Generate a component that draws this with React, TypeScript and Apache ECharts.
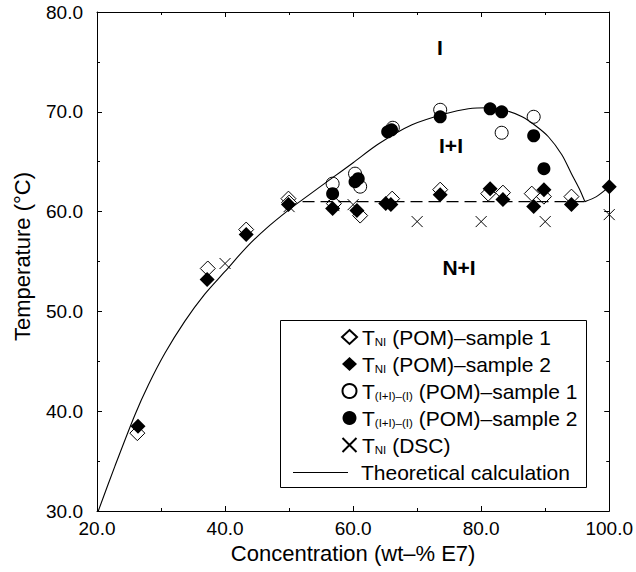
import React, { useEffect, useRef } from "react";
import * as echarts from "echarts";

const FONT = "'Liberation Sans', Arial, Helvetica, sans-serif";

// Axis ranges / ticks
const xMin = 20;
const xMax = 100;
const xStep = 20;
const yMin = 30;
const yMax = 80;
const yStep = 10;

// Series names
const N_P1 = "TNI (POM)–sample 1";
const N_P2 = "TNI (POM)–sample 2";
const N_C1 = "T(I+I)–(I) (POM)–sample 1";
const N_C2 = "T(I+I)–(I) (POM)–sample 2";
const N_DSC = "TNI (DSC)";
const N_TH = "Theoretical calculation";

// Data [concentration wt-% E7, temperature °C]
const tniPom1 = [
  [26.3, 37.8], [37.3, 54.3], [43.3, 58.2], [49.9, 61.3], [50.0, 60.9],
  [57.0, 60.8], [61.1, 59.6], [66.1, 61.3], [73.6, 62.2], [81.1, 61.8],
  [83.4, 61.9], [87.9, 61.8], [89.8, 61.5], [94.1, 61.5],
];
const tniPom2 = [
  [26.4, 38.5], [37.2, 53.2], [43.3, 57.7], [49.9, 60.7], [56.8, 60.3],
  [60.6, 60.1], [65.1, 60.8], [65.9, 60.7], [73.6, 61.7], [81.4, 62.3],
  [83.4, 61.2], [88.2, 60.5], [89.8, 62.2], [94.1, 60.7], [100.0, 62.5],
];
const tIIPom1 = [
  [56.8, 62.8], [60.3, 63.8], [61.1, 62.5], [66.2, 68.4], [73.6, 70.2],
  [83.2, 67.9], [88.2, 69.5],
];
const tIIPom2 = [
  [56.8, 61.8], [60.3, 63.0], [60.8, 63.3], [65.4, 68.0], [66.0, 68.2],
  [73.6, 69.5], [81.4, 70.3], [83.2, 70.0], [88.2, 67.6], [89.8, 64.3],
];
const tniDsc = [
  [40.0, 54.8], [50.0, 60.5], [57.0, 60.6], [60.0, 60.7], [70.0, 59.0],
  [80.0, 59.0], [90.0, 59.0], [100.0, 59.7],
];
const theoryLeft = [
  [20.2, 30.0], [22.8, 34.5], [25.9, 39.6], [28.0, 42.6], [30.6, 45.8],
  [33.7, 49.0], [36.8, 51.7], [40.0, 54.0], [43.3, 56.4], [46.4, 58.3],
  [50.0, 60.2], [52.1, 61.2], [56.8, 63.4], [60.0, 64.9], [64.0, 66.8],
  [69.2, 68.7], [74.4, 69.8], [78.0, 70.3], [81.2, 70.4], [84.0, 70.1],
  [86.4, 69.5], [88.5, 68.6], [90.5, 67.5], [92.6, 65.7], [94.1, 63.8],
  [95.4, 62.2], [96.2, 61.0],
];
const theoryRight = [[96.2, 61.0], [98.0, 61.5], [100.0, 62.5]];
const nematicLine = [[52.1, 61.0], [96.2, 61.0]];

const legendRich: Record<string, string> = {
  [N_P1]: "{t|T}{s|NI}{t| (POM)–sample 1}",
  [N_P2]: "{t|T}{s|NI}{t| (POM)–sample 2}",
  [N_C1]: "{t|T}{s|(I+I)–(I)}{t| (POM)–sample 1}",
  [N_C2]: "{t|T}{s|(I+I)–(I)}{t| (POM)–sample 2}",
  [N_DSC]: "{t|T}{s|NI}{t| (DSC)}",
  [N_TH]: "{g|}{t|Theoretical calculation}",
};

const rich = {
  t: { fontSize: 21, lineHeight: 22, fontFamily: FONT, color: "#000" },
  s: {
    fontSize: 11.5,
    lineHeight: 11,
    fontFamily: FONT,
    color: "#000",
    verticalAlign: "bottom",
    padding: [10, 0, 0, 0],
  },
  g: { width: 8, lineHeight: 22 },
};

const axisCommon = {
  axisLine: { show: true, onZero: false, lineStyle: { color: "#000", width: 1 } },
  axisTick: { show: true, inside: true, length: 5, lineStyle: { color: "#000", width: 1 } },
  minorTick: { show: true, splitNumber: 2, length: 3, lineStyle: { color: "#000", width: 1 } },
  splitLine: { show: false },
  minorSplitLine: { show: false },
};

export default function App() {
  const ref = useRef<HTMLDivElement>(null);
  useEffect(() => {
    if (!ref.current) return;
    const chart = echarts.init(ref.current, null, { renderer: "svg" });
    const option: any = {
      animation: false,
      backgroundColor: "#fff",
      grid: { left: 97, right: 25, top: 12, bottom: 61 },
      xAxis: [
        {
          type: "value",
          min: xMin,
          max: xMax,
          interval: xStep,
          position: "bottom",
          ...axisCommon,
          axisLabel: {
            formatter: (v: number) => v.toFixed(1),
            fontSize: 19,
            fontFamily: FONT,
            color: "#000",
            margin: 8,
          },
          name: "Concentration (wt–% E7)",
          nameLocation: "middle",
          nameGap: 30,
          nameTextStyle: { fontSize: 22, fontFamily: FONT, color: "#000" },
        },
        {
          type: "value",
          min: xMin,
          max: xMax,
          interval: xStep,
          position: "top",
          ...axisCommon,
          axisLabel: { show: false },
        },
      ],
      yAxis: [
        {
          type: "value",
          min: yMin,
          max: yMax,
          interval: yStep,
          position: "left",
          ...axisCommon,
          axisLabel: {
            formatter: (v: number) => v.toFixed(1),
            fontSize: 19,
            fontFamily: FONT,
            color: "#000",
            margin: 14,
          },
          name: "Temperature (°C)",
          nameLocation: "middle",
          nameGap: 64,
          nameTextStyle: { fontSize: 22, fontFamily: FONT, color: "#000", padding: [0, 0, 0, 10] },
        },
        {
          type: "value",
          min: yMin,
          max: yMax,
          interval: yStep,
          position: "right",
          ...axisCommon,
          axisLabel: { show: false },
        },
      ],
      legend: [
        {
          orient: "vertical",
          left: 341,
          top: 326,
          padding: 0,
          itemWidth: 15,
          itemHeight: 14,
          itemGap: 5,
          selectedMode: false,
          data: [N_P1, N_P2, N_C1, N_C2, N_DSC],
          formatter: (name: string) => legendRich[name] || name,
          textStyle: { fontSize: 21, fontFamily: FONT, color: "#000", rich },
        },
        {
          orient: "vertical",
          left: 293,
          top: 462,
          padding: 0,
          itemWidth: 55,
          itemHeight: 1,
          selectedMode: false,
          data: [{ name: N_TH, icon: "rect" }],
          itemStyle: { color: "#000", borderWidth: 0 },
          formatter: (name: string) => legendRich[name] || name,
          textStyle: { fontSize: 21, fontFamily: FONT, color: "#000", rich },
        },
      ],
      graphic: [
        {
          type: "rect",
          shape: { x: 280.5, y: 320.5, width: 306, height: 167 },
          style: { fill: "none", stroke: "#000", lineWidth: 1 },
          z: 1,
        },
        {
          type: "text",
          x: 440,
          y: 47,
          style: {
            text: "I",
            fontSize: 21,
            fontWeight: "bold",
            fontFamily: FONT,
            fill: "#000",
            align: "center",
            verticalAlign: "middle",
          },
        },
        {
          type: "text",
          x: 451,
          y: 145,
          style: {
            text: "I+I",
            fontSize: 21,
            fontWeight: "bold",
            fontFamily: FONT,
            fill: "#000",
            align: "center",
            verticalAlign: "middle",
          },
        },
        {
          type: "text",
          x: 459,
          y: 267,
          style: {
            text: "N+I",
            fontSize: 21,
            fontWeight: "bold",
            fontFamily: FONT,
            fill: "#000",
            align: "center",
            verticalAlign: "middle",
          },
        },
      ],
      series: [
        {
          name: N_TH,
          type: "line",
          data: theoryLeft,
          smooth: 0.3,
          symbol: "none",
          itemStyle: { color: "#000" },
          lineStyle: { color: "#000", width: 1.1 },
          silent: true,
        },
        {
          name: N_TH,
          type: "line",
          data: theoryRight,
          smooth: 0.3,
          symbol: "none",
          itemStyle: { color: "#000" },
          lineStyle: { color: "#000", width: 1.1 },
          silent: true,
        },
        {
          name: "N–I boundary",
          type: "line",
          data: nematicLine,
          symbol: "none",
          itemStyle: { color: "#000" },
          lineStyle: { color: "#000", width: 1.2, type: [12, 6] },
          silent: true,
        },
        {
          name: N_DSC,
          type: "scatter",
          data: tniDsc,
          symbol: "path://M0 0L10 10M10 0L0 10",
          symbolSize: 11,
          itemStyle: { color: "transparent", borderColor: "#000", borderWidth: 1, opacity: 1 },
        },
        {
          name: N_P1,
          type: "scatter",
          data: tniPom1,
          symbol: "diamond",
          symbolSize: 15,
          itemStyle: { color: "#fff", borderColor: "#000", borderWidth: 1, opacity: 1 },
        },
        {
          name: N_P2,
          type: "scatter",
          data: tniPom2,
          symbol: "diamond",
          symbolSize: 15,
          itemStyle: { color: "#000", borderColor: "#000", borderWidth: 0, opacity: 1 },
        },
        {
          name: N_C1,
          type: "scatter",
          data: tIIPom1,
          symbol: "circle",
          symbolSize: 13,
          itemStyle: { color: "#fff", borderColor: "#000", borderWidth: 1, opacity: 1 },
        },
        {
          name: N_C2,
          type: "scatter",
          data: tIIPom2,
          symbol: "circle",
          symbolSize: 13,
          itemStyle: { color: "#000", borderColor: "#000", borderWidth: 0, opacity: 1 },
        },
      ],
    };
    chart.setOption(option);
    return () => chart.dispose();
  }, []);
  return (
    <div
      ref={ref}
      style={{ position: "fixed", left: 0, top: 0, width: 636, height: 572, background: "#fff" }}
    />
  );
}
